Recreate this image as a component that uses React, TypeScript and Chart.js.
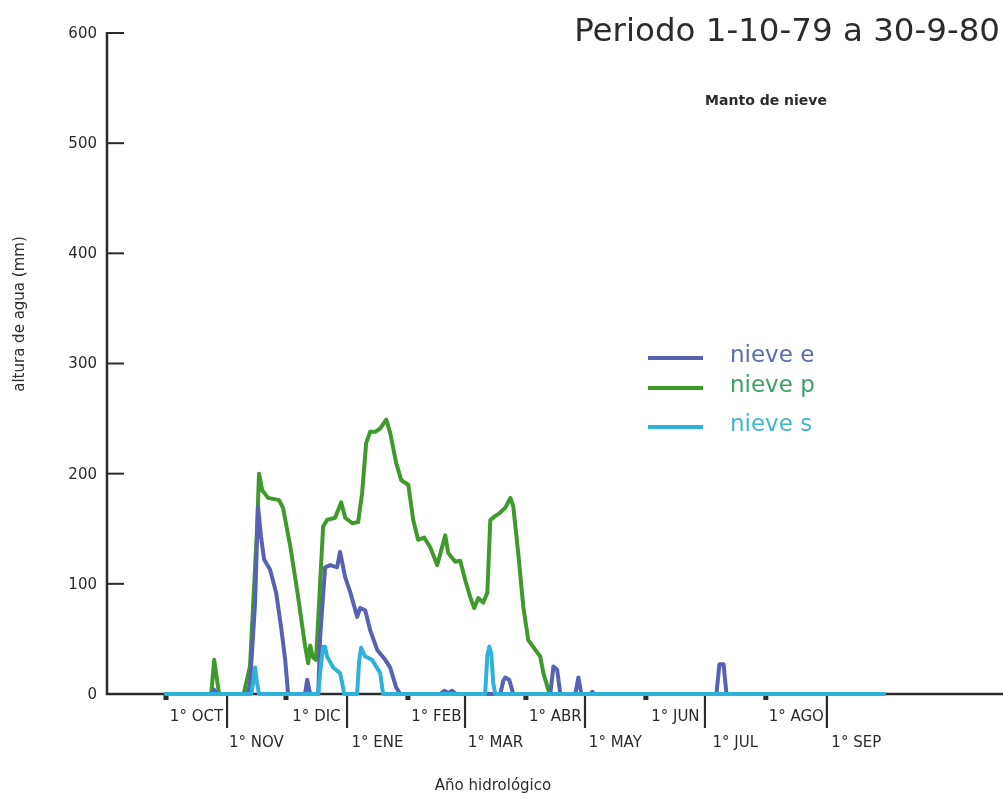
import React, { useEffect, useRef } from "react";
import { Chart, registerables } from "chart.js";

Chart.register(...registerables);

// ---- Data (days counted from 1 Oct 1979) ----
const monthLabels = ["1° OCT", "1° NOV", "1° DIC", "1° ENE", "1° FEB", "1° MAR", "1° ABR", "1° MAY", "1° JUN", "1° JUL", "1° AGO", "1° SEP"];
const monthStartDays = [0, 31, 61, 92, 123, 152, 183, 213, 244, 274, 305, 336, 366];
const yTickValues = [0, 100, 200, 300, 400, 500, 600];

const nieveEDays = [0, 23.4, 24.4, 26, 41.2, 42.7, 45.3, 46.8, 48.3, 49.9, 52.9, 56, 58.5, 60.6, 62.1, 70.7, 71.8, 73.3, 77.4, 78.4, 80.9, 83.5, 87, 88.5, 90.1, 91.1, 93.6, 97.2, 98.7, 101.3, 103.8, 107.4, 111.5, 114, 117, 119.1, 139.4, 141.5, 143.5, 145.5, 147.6, 170, 171.5, 172.5, 174.5, 176.6, 195.4, 197, 198.9, 200.5, 208.1, 209.7, 211.2, 215.8, 216.8, 217.8, 279.9, 281.4, 283.5, 285, 365];
const nieveEValues = [0, 0, 4, 0, 0, 8, 83, 170, 143, 122, 113, 92, 61, 31, 0, 0, 13, 0, 0, 52, 115, 117, 115, 129, 115, 106, 93, 70, 78, 76, 58, 40, 31, 24, 6, 0, 0, 3, 1, 3, 0, 0, 12, 15, 13, 0, 0, 25, 22, 0, 0, 15, 0, 0, 2, 0, 0, 27, 27, 0, 0];

const nievePDays = [0, 23, 24.5, 27, 39.5, 42.7, 46.3, 47.3, 48.9, 51.9, 57.5, 59.5, 63.1, 66.7, 70.7, 72.3, 73.3, 74.8, 76.3, 79.9, 81.9, 86, 89.1, 91.1, 94.7, 97.7, 99.7, 101.8, 103.8, 106.4, 108.9, 112, 114, 117, 119.6, 123.2, 125.7, 128.2, 131.3, 134.4, 137.9, 142, 143.5, 147.1, 149.6, 152.2, 154.7, 156.7, 158.8, 161.3, 163.4, 164.9, 166.9, 169.5, 172.5, 175.1, 176.6, 179.1, 181.7, 184.2, 187.8, 190.3, 191.9, 194.4, 195.4, 365];
const nievePValues = [0, 0, 31, 0, 0, 25, 150, 200, 185, 178, 176, 169, 135, 94, 44, 28, 44, 33, 31, 152, 158, 160, 174, 160, 155, 156, 182, 228, 238, 238, 241, 249, 237, 210, 194, 190, 158, 140, 142, 133, 117, 144, 128, 120, 121, 103, 88, 78, 87, 83, 92, 158, 161, 164, 169, 178, 170, 128, 79, 49, 40, 34, 19, 4, 0, 0];

const nieveSDays = [0, 43.3, 44.3, 45.3, 46.3, 47.3, 77.4, 78.4, 79.9, 80.9, 81.9, 85, 88.5, 89.6, 90.6, 97.2, 98.2, 99.2, 101.3, 104.8, 108.9, 110.4, 162.3, 163.4, 164.4, 165.4, 166.4, 167.4, 365];
const nieveSValues = [0, 0, 10, 24, 10, 0, 0, 20, 43, 43, 34, 24, 19, 10, 0, 0, 30, 42, 34, 31, 19, 0, 0, 35, 43, 37, 10, 0, 0];

const seriesNames = ["nieve e", "nieve p", "nieve s"];
const lineColors = ["#5862b2", "#3f9a2c", "#2fb2da"];
const legendTextColors = ["#5d6cae", "#3ea068", "#3fb6d2"];

const toPoints = (days: number[], vals: number[]) => days.map((d, i) => ({ x: d, y: vals[i] }));

const FONT = "'DejaVu Sans', sans-serif";
const INK = "#2b2b2b";

const decorPlugin = {
  id: "decor",
  beforeDatasetsDraw(chart: any) {
    const ctx = chart.ctx;
    const x = chart.scales.x;
    const y = chart.scales.y;
    const left = chart.chartArea.left;
    const right = chart.chartArea.right;
    const y0 = y.getPixelForValue(0);
    const yTop = y.getPixelForValue(600);
    ctx.save();
    ctx.strokeStyle = INK;
    ctx.fillStyle = INK;
    ctx.lineWidth = 2.5;
    ctx.beginPath();
    ctx.moveTo(left, yTop - 1);
    ctx.lineTo(left, y0);
    ctx.lineTo(right, y0);
    ctx.stroke();
    ctx.lineWidth = 2;
    yTickValues.forEach((v) => {
      const py = y.getPixelForValue(v);
      if (v === 0) return;
      ctx.beginPath();
      ctx.moveTo(left, py);
      ctx.lineTo(left + 17, py);
      ctx.stroke();
    });
    monthLabels.forEach((_, i) => {
      const px = x.getPixelForValue(monthStartDays[i]);
      if (i % 2 === 0) {
        ctx.fillRect(px - 2.5, y0, 5, 6);
      } else {
        ctx.fillRect(px - 1, y0, 2.2, 34);
      }
    });
    ctx.restore();
  },
  afterDraw(chart: any) {
    const ctx = chart.ctx;
    const x = chart.scales.x;
    const y = chart.scales.y;
    const left = chart.chartArea.left;
    const y0 = y.getPixelForValue(0);
    ctx.save();
    ctx.fillStyle = INK;
    ctx.font = `15px ${FONT}`;
    ctx.textAlign = "right";
    ctx.textBaseline = "middle";
    yTickValues.forEach((v) => {
      ctx.fillText(String(v), left - 10, y.getPixelForValue(v) + 1);
    });
    ctx.font = `15px ${FONT}`;
    ctx.textAlign = "center";
    monthLabels.forEach((lab, i) => {
      const mid = (x.getPixelForValue(monthStartDays[i]) + x.getPixelForValue(monthStartDays[i + 1])) / 2;
      const py = i % 2 === 0 ? y0 + 23 : y0 + 49;
      ctx.fillText(lab, mid, py);
    });
    ctx.font = `15px ${FONT}`;
    ctx.fillText("Año hidrológico", 493, 786);
    ctx.save();
    ctx.translate(20, 314);
    ctx.rotate(-Math.PI / 2);
    ctx.fillText("altura de agua (mm)", 0, 0);
    ctx.restore();
    ctx.font = `32.5px ${FONT}`;
    ctx.textAlign = "right";
    ctx.fillText("Periodo 1-10-79 a 30-9-80", 1000, 33);
    ctx.font = `bold 14px ${FONT}`;
    ctx.textAlign = "center";
    ctx.fillText("Manto de nieve", 766, 101);
    const legY = [358, 388, 427];
    ctx.textAlign = "left";
    ctx.font = `23px ${FONT}`;
    seriesNames.forEach((n, i) => {
      ctx.strokeStyle = lineColors[i];
      ctx.lineWidth = 4;
      ctx.beginPath();
      ctx.moveTo(648, legY[i]);
      ctx.lineTo(703, legY[i]);
      ctx.stroke();
      ctx.fillStyle = legendTextColors[i];
      ctx.fillText(n, 730, legY[i] - 2);
    });
    ctx.restore();
  },
};

export default function App() {
  const ref = useRef<HTMLCanvasElement | null>(null);
  useEffect(() => {
    if (!ref.current) return;
    const chart = new Chart(ref.current, {
      type: "line",
      data: {
        datasets: [
          { label: seriesNames[0], data: toPoints(nieveEDays, nieveEValues), borderColor: lineColors[0], order: 1 },
          { label: seriesNames[1], data: toPoints(nievePDays, nievePValues), borderColor: lineColors[1], order: 2 },
          { label: seriesNames[2], data: toPoints(nieveSDays, nieveSValues), borderColor: lineColors[2], order: 0 },
        ].map((d) => ({ ...d, borderWidth: 4, pointRadius: 0, tension: 0, fill: false, clip: false, borderJoinStyle: "round" as const, borderCapStyle: "round" as const })),
      },
      options: {
        animation: false,
        responsive: false,
        layout: { padding: { left: 107, right: 0, top: 33, bottom: 106 } },
        plugins: { legend: { display: false }, tooltip: { enabled: false }, title: { display: false } },
        scales: {
          x: { type: "linear", min: -30, max: 425.6, display: false },
          y: { type: "linear", min: 0, max: 600, display: false },
        },
      },
      plugins: [decorPlugin],
    });
    return () => chart.destroy();
  }, []);
  return (
    <div style={{ position: "absolute", left: 0, top: 0, width: 1003, height: 800, background: "#fff" }}>
      <canvas ref={ref} width={1003} height={800} />
    </div>
  );
}
